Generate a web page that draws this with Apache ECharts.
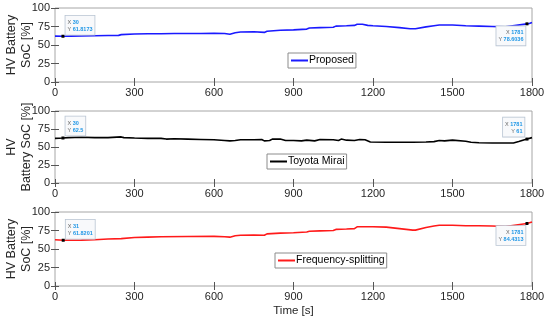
<!DOCTYPE html>
<html><head><meta charset="utf-8">
<script src="https://cdn.jsdelivr.net/npm/echarts@6/dist/echarts.min.js"></script>
<style>html,body{margin:0;padding:0;background:#fff}#c{width:550px;height:320px}</style>
</head><body><div id="c"></div>
<script>
const xTicks = [0, 300, 600, 900, 1200, 1500, 1800];
const yTicks = [0, 25, 50, 75, 100];

const proposedT = [0,30,60,100,150,200,240,250,300,350,400,450,500,550,600,640,660,680,700,750,790,800,850,900,950,960,1000,1050,1060,1100,1130,1140,1160,1180,1200,1250,1300,1340,1360,1400,1430,1450,1500,1550,1600,1650,1700,1781,1790,1800];
const proposedSoC = [62,61.8,62,62.2,62.5,62.8,63,64,64.8,65.2,65.3,65.5,65.6,65.6,65.8,65.5,64.5,66.5,67.5,68,67,68.5,70,70.5,71.5,73,73.5,74,75.5,76,76.5,78,78,76.5,76,75,73.5,72,72,74.5,76,77,77,76,75.5,75,74.5,78.6,79,80.5];

const miraiT = [0,30,50,100,150,200,250,260,300,350,400,420,450,500,550,600,640,660,680,700,750,780,790,810,820,850,870,900,930,950,980,1000,1050,1070,1080,1100,1130,1150,1170,1190,1250,1300,1350,1400,1430,1450,1470,1500,1550,1570,1600,1650,1700,1730,1750,1781,1800];
const miraiSoC = [62,62.5,63,63.5,63,63,64,63,62.5,62,62,61,61.5,61,60.5,60,59,58.5,59,60,60,60.5,58.5,59,61,61,59,59,58.5,59.5,58.5,60.5,60,59,61,59.5,59,60.5,60,57,56.5,56.5,56.5,57,57.5,59,58.5,59.5,58,56.5,56,55.5,55.5,55.5,57.5,61,63];

const freqT = [0,31,100,150,200,250,300,350,400,500,600,640,660,680,700,750,790,800,850,900,950,960,1000,1050,1060,1100,1130,1140,1200,1250,1300,1350,1360,1400,1430,1450,1500,1550,1600,1650,1700,1781,1800];
const freqSoC = [62.5,61.8,62,62.5,63.5,64,65.5,66,66.5,66.8,67,66.5,66,68,68.5,69,68.5,70.5,71.5,72,73,74,74.5,75,76.5,77,77.5,80,80,79.5,77.5,75.5,75.5,79,81,82,82,81.5,81.5,81,80.5,84.4,86.5];

const seriesNames = ['Proposed', 'Toyota Mirai', 'Frequency-splitting'];
const yNames = ['HV Battery\nSoC [%]', 'HV\nBattery SoC [%]', 'HV Battery\nSoC [%]'];
const xName = 'Time [s]';
const tipsProposed = [[30, '61.8173'], [1781, '78.6036']];
const tipsMirai = [[30, '62.5'], [1781, '61']];
const tipsFreq = [[31, '61.8201'], [1781, '84.4313']];

const FF = 'Liberation Sans, Arial, sans-serif';
const TXT = '#262626';
const zip = (t, v) => t.map((x, i) => [x, v[i]]);
const seriesData = [zip(proposedT, proposedSoC), zip(miraiT, miraiSoC), zip(freqT, freqSoC)];
const tips = [tipsProposed, tipsMirai, tipsFreq];
const colors = ['#1a1aff', '#000000', '#ff1a1a'];
const grids = [{top: 8, height: 74}, {top: 111, height: 72}, {top: 212, height: 74}];
const legendPos = [{left: 288, top: 53}, {left: 267, top: 154}, {left: 275, top: 253}];
const tipPlace = [
  [[[4, 0], 'left', 'bottom'], [[0, 4], 'right', 'top']],
  [[[4, -1], 'left', 'bottom'], [[-1, -1], 'right', 'bottom']],
  [[[4, 0], 'left', 'bottom'], [[0, 4], 'right', 'top']]
];

const option = {
  animation: false,
  grid: grids.map(g => ({left: 55, right: 18, top: g.top, height: g.height, outerBoundsMode: 'none', containLabel: false, show: true, borderColor: '#a6a6a6', borderWidth: 1, backgroundColor: '#fff'})),
  xAxis: [], yAxis: [], series: [], legend: []
};
for (let i = 0; i < 3; i++) {
  option.xAxis.push({
    type: 'value', gridIndex: i, min: xTicks[0], max: xTicks[xTicks.length - 1], interval: xTicks[1] - xTicks[0],
    axisLine: {show: false}, splitLine: {show: false},
    axisTick: {inside: true, length: 4, lineStyle: {color: '#555'}},
    axisLabel: {margin: 5, fontSize: 11, color: TXT, fontFamily: FF, formatter: v => String(v)},
    name: i === 2 ? xName : '', nameLocation: 'middle', nameGap: 19, nameMoveOverlap: false,
    nameTextStyle: {fontSize: 11.5, color: TXT, fontFamily: FF}
  });
  option.xAxis.push({
    type: 'value', gridIndex: i, position: 'top', min: xTicks[0], max: xTicks[xTicks.length - 1], interval: xTicks[1] - xTicks[0],
    axisLine: {show: false}, splitLine: {show: false}, axisLabel: {show: false},
    axisTick: {inside: true, length: 4, lineStyle: {color: '#555'}}
  });
  option.yAxis.push({
    type: 'value', gridIndex: i, min: yTicks[0], max: yTicks[yTicks.length - 1], interval: yTicks[1] - yTicks[0],
    axisLine: {show: false}, splitLine: {show: false},
    axisTick: {inside: true, length: 4, lineStyle: {color: '#555'}},
    axisLabel: {margin: 5, fontSize: 11, color: TXT, fontFamily: FF},
    name: yNames[i], nameLocation: 'middle', nameRotate: 90, nameGap: 21, nameMoveOverlap: false,
    nameTextStyle: {fontSize: 12.5, color: TXT, fontFamily: FF, lineHeight: 15, align: 'center'}
  });
  option.yAxis.push({
    type: 'value', gridIndex: i, position: 'right', min: yTicks[0], max: yTicks[yTicks.length - 1], interval: yTicks[1] - yTicks[0],
    axisLine: {show: false}, splitLine: {show: false}, axisLabel: {show: false},
    axisTick: {inside: true, length: 4, lineStyle: {color: '#555'}}
  });
  option.series.push({
    name: seriesNames[i], type: 'line', xAxisIndex: 2 * i, yAxisIndex: 2 * i,
    data: seriesData[i], symbol: 'none', lineStyle: {color: colors[i], width: 1.6}, itemStyle: {color: colors[i]},
    markPoint: {
      symbol: 'rect', symbolSize: 3, itemStyle: {color: '#000'},
      data: tips[i].map((tp, k) => ({
        coord: [tp[0], parseFloat(tp[1])],
        label: {
          show: true, position: tipPlace[i][k][0], align: tipPlace[i][k][1], verticalAlign: tipPlace[i][k][2],
          formatter: '{k|X} {v|' + tp[0] + '}\n{k|Y} {v|' + tp[1] + '}',
          backgroundColor: '#f8f9fb', borderColor: '#b8c4d2', borderWidth: 0.8, padding: [3, 2, 2, 2],
          fontFamily: FF, fontSize: 5.5, lineHeight: 7,
          rich: {k: {color: '#666', fontSize: 5.5, fontFamily: FF}, v: {color: '#1e96e6', fontSize: 5.5, fontWeight: 'bold', fontFamily: FF}}
        }
      }))
    }
  });
  option.legend.push({
    data: [{name: seriesNames[i], icon: 'rect'}], left: legendPos[i].left, top: legendPos[i].top, orient: 'horizontal',
    backgroundColor: '#fff', borderColor: '#8c8c8c', borderWidth: 1, padding: [2, 2, 2, 3],
    itemWidth: 17, itemHeight: 2, itemGap: 2,
    textStyle: {fontSize: 10.5, color: '#000', fontFamily: FF, padding: [0, 0, 0, -4]}
  });
}
const chart = echarts.init(document.getElementById('c'), null, {renderer: 'canvas'});
chart.setOption(option);
</script></body></html>
